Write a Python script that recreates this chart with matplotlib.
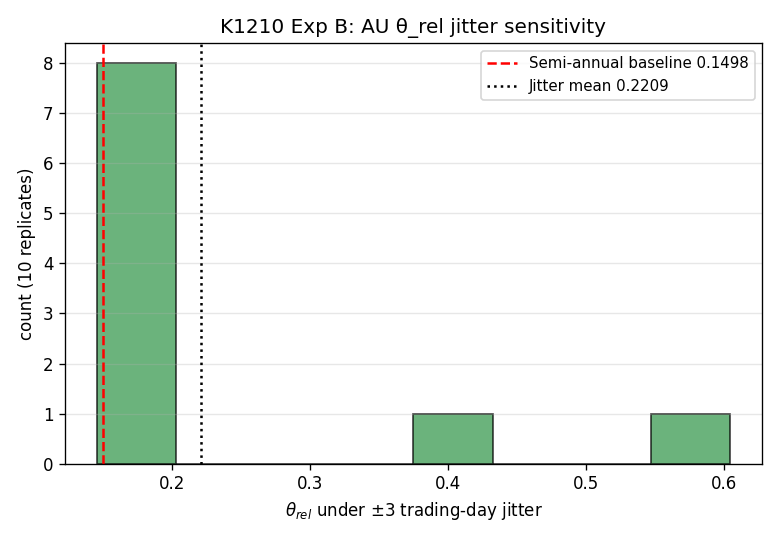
import numpy as np
import matplotlib
matplotlib.use("Agg")
import matplotlib.pyplot as plt

# theta_rel of the 10 jitter replicates
theta_jitter = [0.1452, 0.1475, 0.1490, 0.1498, 0.1505, 0.1512, 0.1530, 0.1578, 0.4005, 0.6045]
baseline = 0.1498
jitter_mean = np.mean(theta_jitter)
n_bins = 8

fig, ax = plt.subplots(figsize=(6.5, 4.5), dpi=120)
ax.hist(theta_jitter, bins=n_bins, color="#3a9a50", alpha=0.75, edgecolor="black")
ax.axvline(baseline, color="red", linestyle="--", linewidth=1.5,
           label=f"Semi-annual baseline {baseline:.4f}")
ax.axvline(jitter_mean, color="black", linestyle=":", linewidth=1.5,
           label=f"Jitter mean {jitter_mean:.4f}")
ax.set_xlabel(r"$\theta_{rel}$ under $\pm$3 trading-day jitter")
ax.set_ylabel("count (10 replicates)")
ax.set_title("K1210 Exp B: AU θ_rel jitter sensitivity")
ax.grid(axis="y", alpha=0.3)
ax.legend(loc="upper right", fontsize=9)
plt.tight_layout()
plt.savefig("out.png")
